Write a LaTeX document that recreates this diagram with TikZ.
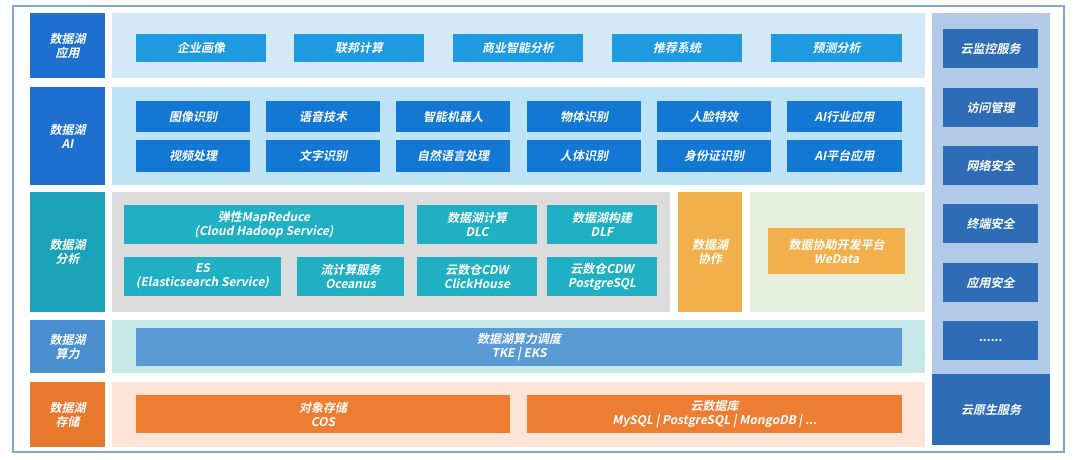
\documentclass[tikz,border=0pt]{standalone}
\usepackage{fontspec}
\setmainfont{Noto Sans CJK SC}[BoldFont={Noto Sans CJK SC Bold},BoldItalicFont={Noto Sans CJK SC Bold},BoldItalicFeatures={FakeSlant=0.2}]
\definecolor{frame}{HTML}{7FA7D8}
\definecolor{lblue}{HTML}{1F6FD0}
\definecolor{lteal}{HTML}{1AA3B8}
\definecolor{lsky}{HTML}{4A8FD0}
\definecolor{lorange}{HTML}{E8782C}
\definecolor{bgapp}{HTML}{D3E9F8}
\definecolor{bgai}{HTML}{BFE3F6}
\definecolor{appbox}{HTML}{1E9AE0}
\definecolor{aibox}{HTML}{1278D3}
\definecolor{grey}{HTML}{DCDCDC}
\definecolor{teal}{HTML}{1FB0C4}
\definecolor{orng}{HTML}{F2B04C}
\definecolor{lgreen}{HTML}{E6EFDC}
\definecolor{bgcomp}{HTML}{C6E8E6}
\definecolor{compbox}{HTML}{5B9BD5}
\definecolor{bgstor}{HTML}{FDE4D6}
\definecolor{storbox}{HTML}{ED7D31}
\definecolor{rbg}{HTML}{B3C9E8}
\definecolor{rbox}{HTML}{2E6DB5}
\tikzset{
 bx/.style={inner sep=0pt,outer sep=0pt,text=white,font=\bfseries\itshape\fontsize{12}{14}\selectfont,align=center},
}
\newcommand{\bxat}[7]{\node[bx,fill=#5,minimum width=#3-#1,minimum height=#4-#2] (#6) at ({(#1+#3)/2},{(#2+#4)/2}) {#7};}
\begin{document}
\begin{tikzpicture}[x=1pt,y=-1pt]
\useasboundingbox (0,0) rectangle (1080,460);
\fill[white] (0,0) rectangle (1080,460);
\draw[frame,line width=1.2pt] (13,6) rectangle (1064,452);
% left labels
\bxat{30}{13}{105}{78}{lblue}{l1}{数据湖\\应用}
\bxat{30}{87}{105}{185}{lblue}{l2}{数据湖\\AI}
\bxat{30}{192}{105}{312}{lteal}{l3}{数据湖\\分析}
\bxat{30}{320}{105}{373}{lsky}{l4}{数据湖\\算力}
\bxat{30}{382}{105}{447}{lorange}{l5}{数据湖\\存储}
% backgrounds
\bxat{112}{13}{925}{78}{bgapp}{b1}{}
\bxat{112}{87}{925}{185}{bgai}{b2}{}
\bxat{112}{192}{670}{312}{grey}{b3}{}
\bxat{678}{192}{742}{312}{orng}{b3o}{数据湖\\协作}
\bxat{750}{192}{925}{312}{lgreen}{b3g}{}
\bxat{112}{320}{925}{373}{bgcomp}{b4}{}
\bxat{112}{382}{925}{447}{bgstor}{b5}{}
% app
\bxat{136}{34}{266}{62}{appbox}{a1}{企业画像}
\bxat{294}{34}{424}{62}{appbox}{a2}{联邦计算}
\bxat{453}{34}{583}{62}{appbox}{a3}{商业智能分析}
\bxat{612}{34}{742}{62}{appbox}{a4}{推荐系统}
\bxat{771}{34}{902}{62}{appbox}{a5}{预测分析}
% AI
\bxat{136}{101}{250}{132}{aibox}{i1}{图像识别}
\bxat{266}{101}{380}{132}{aibox}{i2}{语音技术}
\bxat{396}{101}{510}{132}{aibox}{i3}{智能机器人}
\bxat{527}{101}{641}{132}{aibox}{i4}{物体识别}
\bxat{657}{101}{771}{132}{aibox}{i5}{人脸特效}
\bxat{787}{101}{902}{132}{aibox}{i6}{AI行业应用}
\bxat{136}{140}{250}{172}{aibox}{j1}{视频处理}
\bxat{266}{140}{380}{172}{aibox}{j2}{文字识别}
\bxat{396}{140}{510}{172}{aibox}{j3}{自然语言处理}
\bxat{527}{140}{641}{172}{aibox}{j4}{人体识别}
\bxat{657}{140}{771}{172}{aibox}{j5}{身份证识别}
\bxat{787}{140}{902}{172}{aibox}{j6}{AI平台应用}
% analysis
\bxat{124}{205}{404}{244}{teal}{t1}{弹性MapReduce\\(Cloud Hadoop Service)}
\bxat{417}{205}{537}{244}{teal}{t2}{数据湖计算\\DLC}
\bxat{547}{205}{657}{244}{teal}{t3}{数据湖构建\\DLF}
\bxat{124}{257}{281}{296}{teal}{t4}{ES\\(Elasticsearch Service)}
\bxat{297}{257}{404}{296}{teal}{t5}{流计算服务\\Oceanus}
\bxat{417}{257}{537}{296}{teal}{t6}{云数仓CDW\\ClickHouse}
\bxat{547}{257}{657}{296}{teal}{t7}{云数仓CDW\\PostgreSQL}
\bxat{768}{228}{905}{274}{orng}{w1}{数据协助开发平台\\WeData}
% compute
\bxat{136}{328}{902}{366}{compbox}{c1}{数据湖算力调度\\TKE | EKS}
% storage
\bxat{136}{395}{510}{433}{storbox}{s1}{对象存储\\COS}
\bxat{527}{395}{902}{433}{storbox}{s2}{云数据库\\MySQL | PostgreSQL | MongoDB | ...}
% right
\bxat{932}{13}{1050}{375}{rbg}{rb}{}
\bxat{943}{29}{1038}{68}{rbox}{r1}{云监控服务}
\bxat{943}{88}{1038}{127}{rbox}{r2}{访问管理}
\bxat{943}{146}{1038}{185}{rbox}{r3}{网络安全}
\bxat{943}{204}{1038}{243}{rbox}{r4}{终端安全}
\bxat{943}{263}{1038}{302}{rbox}{r5}{应用安全}
\bxat{943}{321}{1038}{360}{rbox}{r6}{......}
\bxat{932}{374}{1050}{445}{rbox}{r7}{云原生服务}
\end{tikzpicture}
\end{document}
